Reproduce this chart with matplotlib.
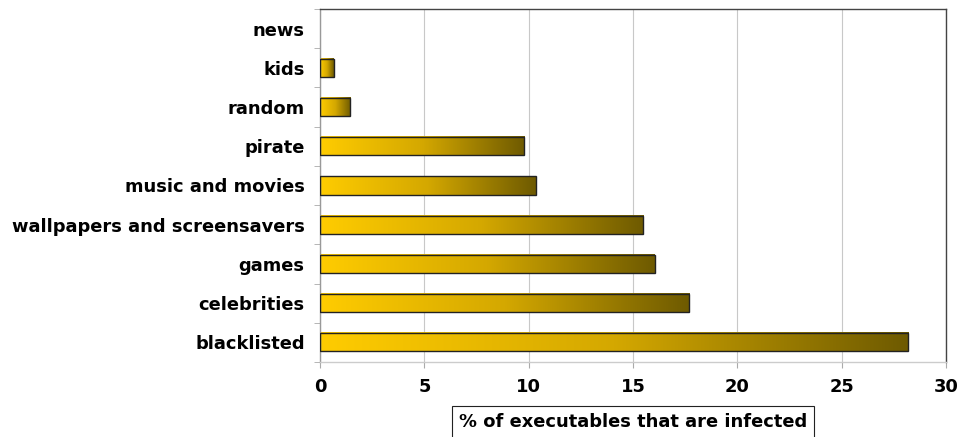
import numpy as np
import matplotlib.pyplot as plt
from matplotlib.colors import LinearSegmentedColormap

# data
categories = ["blacklisted", "celebrities", "games", "wallpapers and screensavers",
              "music and movies", "pirate", "random", "kids", "news"]
infected_pct = [28.2, 17.7, 16.05, 15.5, 10.35, 9.8, 1.45, 0.65, 0.0]
x_ticks = [0, 5, 10, 15, 20, 25, 30]

bar_h = 0.46
fs = 12.9
cmap = LinearSegmentedColormap.from_list("gold", ["#FFCC00", "#D4A800", "#6E5A00"])
grad = np.linspace(0, 1, 256).reshape(1, -1)

fig = plt.figure(figsize=(9.6, 4.37), dpi=100)
ax = fig.add_axes([320/960, 1 - 362/437, 626/960, 353/437])

y = np.arange(len(categories))
vals = np.array(infected_pct)
for yi, v in zip(y, vals):
    if v <= 0:
        continue
    ax.imshow(grad, cmap=cmap, aspect='auto', interpolation='bilinear',
              extent=[0, v, yi - bar_h/2, yi + bar_h/2], zorder=2)
nz = vals > 0
ax.barh(y[nz], vals[nz], height=bar_h, fill=False, edgecolor='#222222',
        linewidth=1.0, zorder=3)

ax.set_xlim(0, 30)
ax.set_ylim(-0.5, len(categories) - 0.5)
ax.set_xticks(x_ticks)
ax.set_xticklabels([str(t) for t in x_ticks], fontsize=fs, fontweight='bold')
ax.set_yticks(y)
ax.set_yticklabels(categories, fontsize=fs, fontweight='bold')
ax.tick_params(axis='y', length=0, pad=11)
ax.set_yticks(np.arange(-0.5, len(categories), 1), minor=True)
ax.tick_params(axis='y', which='minor', length=4, color='#aaaaaa', direction='out')
ax.tick_params(axis='x', length=4, color='#aaaaaa', pad=7.5)
ax.xaxis.grid(True, color='#c8c8c8', linewidth=0.8, zorder=0)
ax.set_axisbelow(True)

ax.spines['left'].set_color('#999999')
ax.spines['bottom'].set_color('#cccccc')
ax.spines['top'].set_color('#444444')
ax.spines['right'].set_color('#444444')
for s in ax.spines.values():
    s.set_linewidth(1.0)

fig.text(633/960, 1 - 422/437, "% of executables that are infected", ha='center', va='center',
         fontsize=fs, fontweight='bold',
         bbox=dict(boxstyle='square,pad=0.38', facecolor='white', edgecolor='#222222', linewidth=0.8))

fig.savefig("out.png", dpi=100)
